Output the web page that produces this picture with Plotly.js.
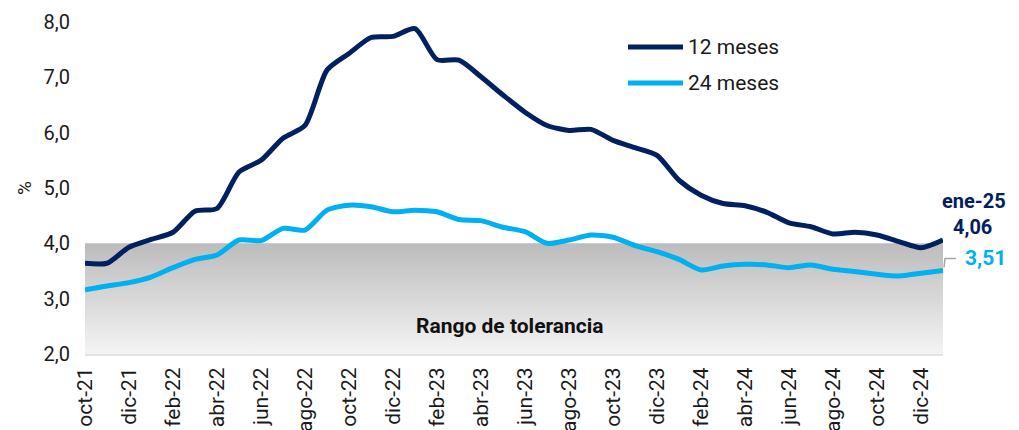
<!DOCTYPE html>
<html>
<head>
<meta charset="utf-8">
<script src="https://cdn.plot.ly/plotly-3.0.1.min.js"></script>
<style>html,body{margin:0;padding:0;background:#fff;}#chart{width:1019px;height:430px;}</style>
</head>
<body>
<div id="chart"></div>
<script>
const months = ["oct-21","nov-21","dic-21","ene-22","feb-22","mar-22","abr-22","may-22","jun-22","jul-22","ago-22","sep-22",
  "oct-22","nov-22","dic-22","ene-23","feb-23","mar-23","abr-23","may-23","jun-23","jul-23","ago-23","sep-23",
  "oct-23","nov-23","dic-23","ene-24","feb-24","mar-24","abr-24","may-24","jun-24","jul-24","ago-24","sep-24",
  "oct-24","nov-24","dic-24","ene-25"];
const exp12 = [3.64,3.64,3.93,4.07,4.20,4.58,4.63,5.29,5.50,5.90,6.13,7.13,
  7.43,7.72,7.74,7.88,7.32,7.31,7.01,6.68,6.37,6.13,6.04,6.06,
  5.86,5.73,5.59,5.14,4.87,4.72,4.68,4.56,4.37,4.30,4.17,4.20,
  4.15,4.03,3.92,4.06];
const exp24 = [3.16,3.23,3.29,3.39,3.56,3.71,3.79,4.06,4.05,4.27,4.24,4.60,
  4.69,4.66,4.57,4.60,4.57,4.43,4.41,4.29,4.21,4.00,4.06,4.15,
  4.11,3.96,3.85,3.71,3.52,3.59,3.62,3.61,3.56,3.61,3.53,3.49,
  3.44,3.41,3.46,3.51];
const tolLow = 2.0, tolHigh = 4.0;
const yMin = 2, yMax = 8;
const tickMonths = months.filter((m, i) => i % 2 === 0);
const seriesNames = ["12 meses", "24 meses"];
const bandLabel = "Rango de tolerancia";
const lastLabel = "ene-25";

const NAVY = "#002060", CYAN = "#00b0f0", TXT = "#1a1a1a";
const FONT = "Roboto, 'Liberation Sans', sans-serif";
const first = months[0], last = months[months.length - 1];
const lastIdx = months.length - 1;
const fmt = v => v.toFixed(2).replace(".", ",");

const traces = [
  {x: [first, last, last, first, first], y: [tolLow, tolLow, tolHigh, tolHigh, tolLow],
   type: "scatter", mode: "lines", fill: "toself", line: {width: 0, color: "rgba(0,0,0,0)"},
   fillgradient: {type: "vertical", colorscale: [[0, "#f4f4f4"], [1, "#bcbcbc"]]},
   hoverinfo: "skip", showlegend: false},
  {x: months, y: exp24, type: "scatter", mode: "lines", name: seriesNames[1],
   line: {color: CYAN, width: 5, shape: "spline", smoothing: 0.7}, showlegend: false},
  {x: months, y: exp12, type: "scatter", mode: "lines", name: seriesNames[0],
   line: {color: NAVY, width: 5, shape: "spline", smoothing: 0.7}, showlegend: false}
];

const px0 = 85, pw = 858, py0 = 354, ph = 332;
const pxX = p => (p - px0) / pw;
const pxY = p => (py0 - p) / ph;
// leader line for the last 24-month value (paper coords, offsets in pixels)
const lyp = (exp24[lastIdx] - yMin) / (yMax - yMin);
const lead = (dx, dy) => (1 + dx / pw).toFixed(5) + "," + (lyp + dy / ph).toFixed(5);
const leaderPath = "M" + lead(1, 3) + " L" + lead(2, 12) + " L" + lead(13, 12);

const layout = {
  width: 1019, height: 430,
  margin: {l: 85, r: 76, t: 22, b: 76},
  paper_bgcolor: "#fff", plot_bgcolor: "#fff",
  separators: ", ",
  font: {family: FONT, color: TXT, size: 19},
  showlegend: false,
  xaxis: {type: "category", categoryarray: months, range: [0, lastIdx],
    tickvals: tickMonths, ticktext: tickMonths, tickangle: -90,
    showgrid: false, zeroline: false, showline: true, linecolor: "#e3e3e3", linewidth: 2,
    ticks: "", ticklabelstandoff: 3, tickfont: {size: 21, color: TXT}},
  yaxis: {range: [yMin, yMax], dtick: 1, tick0: 2, tickformat: ".1f",
    showgrid: false, zeroline: false, showline: false, ticks: "",
    ticklabelstandoff: 14, tickfont: {size: 20, color: TXT},
    title: {text: "%", font: {size: 19, color: TXT}, standoff: 6}},
  shapes: [
    {type: "line", xref: "paper", yref: "paper", x0: pxX(628), x1: pxX(683), y0: pxY(47), y1: pxY(47),
     line: {color: NAVY, width: 5}},
    {type: "line", xref: "paper", yref: "paper", x0: pxX(628), x1: pxX(683), y0: pxY(83), y1: pxY(83),
     line: {color: CYAN, width: 5}},
    {type: "path", xref: "paper", yref: "paper", path: leaderPath,
     line: {color: "#a6a6a6", width: 1.5}}
  ],
  annotations: [
    {xref: "paper", yref: "paper", x: pxX(686), y: pxY(47), xanchor: "left", yanchor: "middle",
     text: seriesNames[0], showarrow: false, font: {size: 21, color: TXT}},
    {xref: "paper", yref: "paper", x: pxX(686), y: pxY(83), xanchor: "left", yanchor: "middle",
     text: seriesNames[1], showarrow: false, font: {size: 21, color: TXT}},
    {xref: "paper", yref: "y", x: pxX(510), y: 2.5, text: "<b>" + bandLabel + "</b>",
     showarrow: false, font: {size: 21, color: "#111"}},
    {xref: "x", yref: "y", x: last, y: exp12[lastIdx], text: "<b>" + lastLabel + "</b>",
     showarrow: false, xanchor: "center", yanchor: "middle", xshift: 31, yshift: 39,
     font: {size: 20, color: NAVY}},
    {xref: "x", yref: "y", x: last, y: exp12[lastIdx], text: "<b>" + fmt(exp12[lastIdx]) + "</b>",
     showarrow: false, xanchor: "center", yanchor: "middle", xshift: 29, yshift: 13,
     font: {size: 20, color: NAVY}},
    {xref: "x", yref: "y", x: last, y: exp24[lastIdx], text: "<b>" + fmt(exp24[lastIdx]) + "</b>",
     showarrow: false, xanchor: "left", yanchor: "middle", xshift: 20, yshift: 12,
     font: {size: 21, color: CYAN}}
  ]
};

Plotly.newPlot("chart", traces, layout, {staticPlot: true, displayModeBar: false});
</script>
</body>
</html>
